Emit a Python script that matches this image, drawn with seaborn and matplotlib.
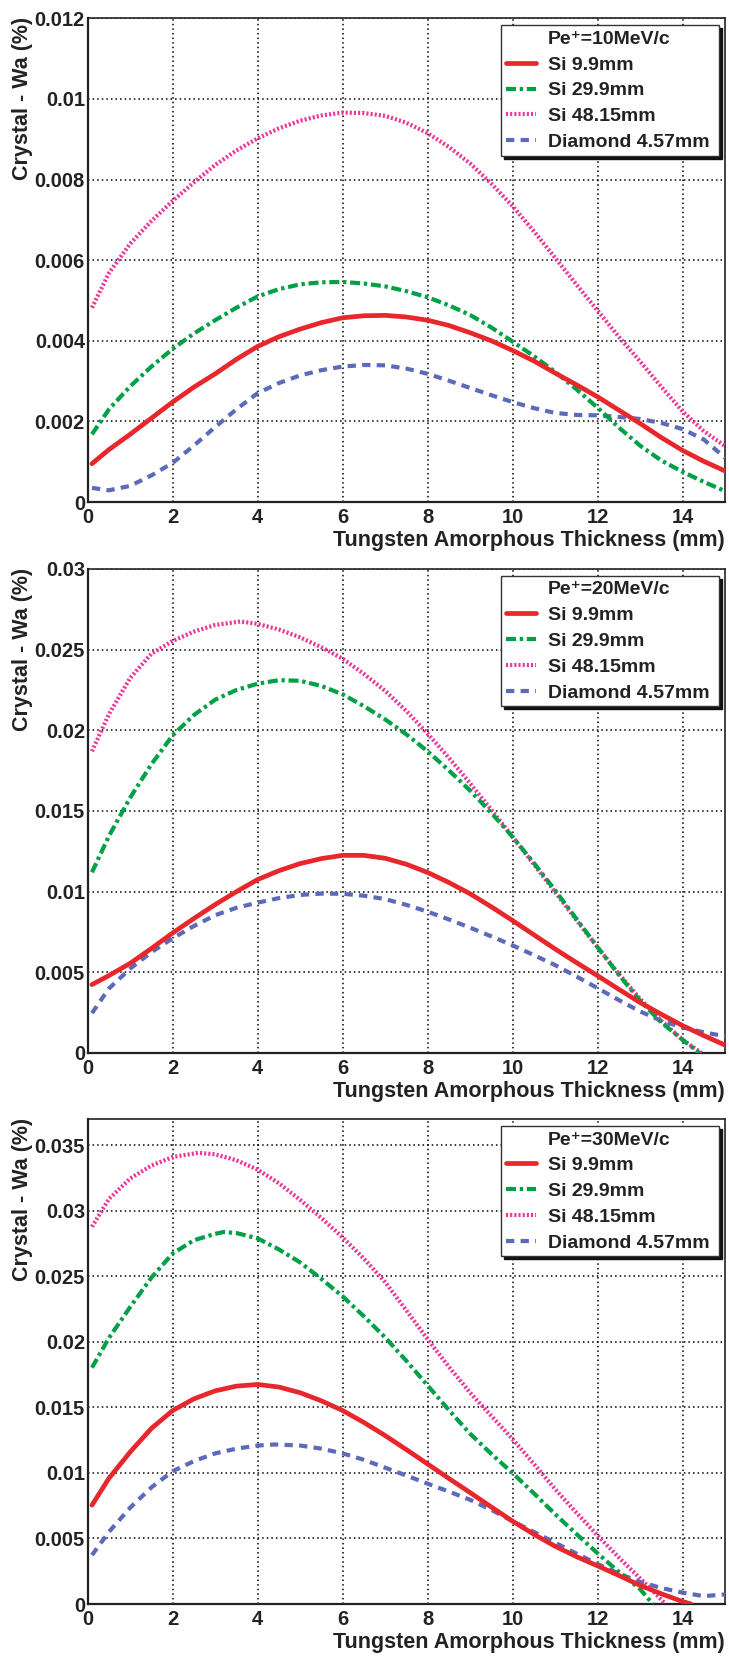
import matplotlib
matplotlib.use("Agg")
import matplotlib.pyplot as plt
from matplotlib.lines import Line2D
import numpy as np
import pandas as pd
import seaborn as sns

sns.set_theme(style="white")
plt.rcParams["font.family"] = ["Liberation Sans", "DejaVu Sans"]
plt.rcParams["font.weight"] = "bold"
plt.rcParams["axes.labelweight"] = "bold"

# ---------------------------------------------------------------- data
# Tungsten amorphous thickness (mm)
x_half = [0.1, 0.5, 1, 1.5, 2, 2.5, 3, 3.5, 4, 4.5, 5, 5.5, 6, 6.5, 7, 7.5,
          8, 8.5, 9, 9.5, 10, 10.5, 11, 11.5, 12, 12.5, 13, 13.5, 14, 14.5, 15]

momenta = ["Pe\u207a=10MeV/c", "Pe\u207a=20MeV/c", "Pe\u207a=30MeV/c"]
series_names = ["Si 9.9mm", "Si 29.9mm", "Si 48.15mm", "Diamond 4.57mm"]

# Pe+ = 10 MeV/c
x_10_si99 = x_half
y_10_si99 = [0.00095, 0.00130, 0.00168, 0.00208, 0.00248, 0.00285, 0.00318, 0.00354,
             0.00386, 0.00410, 0.00429, 0.00445, 0.00457, 0.00462, 0.00463, 0.00459,
             0.00451, 0.00438, 0.00420, 0.00400, 0.00376, 0.00350, 0.00320, 0.00291,
             0.00261, 0.00228, 0.00195, 0.00160, 0.00128, 0.00101, 0.00077]
x_10_si299 = x_half
y_10_si299 = [0.00168, 0.00230, 0.00287, 0.00336, 0.00380, 0.00418, 0.00451, 0.00482,
              0.00510, 0.00528, 0.00540, 0.00545, 0.00546, 0.00542, 0.00535, 0.00523,
              0.00508, 0.00488, 0.00464, 0.00433, 0.00398, 0.00362, 0.00323, 0.00280,
              0.00234, 0.00185, 0.00140, 0.00103, 0.00075, 0.00050, 0.00027]
x_10_si4815 = x_half
y_10_si4815 = [0.00482, 0.00568, 0.00641, 0.00697, 0.00747, 0.00793, 0.00836, 0.00872,
               0.00902, 0.00927, 0.00946, 0.00959, 0.00966, 0.00965, 0.00958, 0.00941,
               0.00915, 0.00881, 0.00840, 0.00790, 0.00734, 0.00672, 0.00606, 0.00540,
               0.00475, 0.00410, 0.00349, 0.00286, 0.00225, 0.00176, 0.00139]
x_10_dia = x_half
y_10_dia = [0.00035, 0.00029, 0.00040, 0.00066, 0.00097, 0.00140, 0.00186, 0.00230,
            0.00270, 0.00295, 0.00314, 0.00327, 0.00336, 0.00340, 0.00339, 0.00331,
            0.00318, 0.00301, 0.00283, 0.00265, 0.00248, 0.00233, 0.00221, 0.00216,
            0.00215, 0.00211, 0.00206, 0.00196, 0.00181, 0.00155, 0.00110]

# Pe+ = 20 MeV/c
x_20_si99 = x_half
y_20_si99 = [0.00424, 0.00480, 0.00556, 0.00648, 0.00744, 0.00834, 0.00920, 0.01000,
             0.01075, 0.01130, 0.01174, 0.01205, 0.01225, 0.01225, 0.01207, 0.01170,
             0.01119, 0.01057, 0.00987, 0.00906, 0.00821, 0.00733, 0.00645, 0.00561,
             0.00479, 0.00395, 0.00313, 0.00240, 0.00170, 0.00108, 0.00049]
x_20_si299 = x_half[:29] + [14.4]
y_20_si299 = [0.01120, 0.01345, 0.01583, 0.01790, 0.01969, 0.02095, 0.02190, 0.02250,
              0.02289, 0.02311, 0.02307, 0.02275, 0.02223, 0.02150, 0.02068, 0.01975,
              0.01870, 0.01752, 0.01627, 0.01488, 0.01340, 0.01178, 0.01009, 0.00832,
              0.00656, 0.00485, 0.00325, 0.00190, 0.00082, 0.0]
x_20_si4815 = [0.1, 0.5, 1, 1.5, 2, 2.5, 3, 3.6, 4, 4.5, 5, 5.5, 6, 6.5, 7, 7.5,
               8, 8.5, 9, 9.5, 10, 10.5, 11, 11.5, 12, 12.5, 13, 13.5, 14, 14.45]
y_20_si4815 = [0.01870, 0.02100, 0.02325, 0.02475, 0.02554, 0.02612, 0.02653, 0.02675,
               0.02660, 0.02625, 0.02576, 0.02515, 0.02444, 0.02350, 0.02245, 0.02120,
               0.01980, 0.01830, 0.01671, 0.01508, 0.01340, 0.01170, 0.00998, 0.00825,
               0.00656, 0.00490, 0.00336, 0.00200, 0.00082, 0.0]
x_20_dia = x_half
y_20_dia = [0.00247, 0.00400, 0.00523, 0.00625, 0.00711, 0.00787, 0.00854, 0.00900,
            0.00932, 0.00960, 0.00980, 0.00988, 0.00987, 0.00975, 0.00954, 0.00918,
            0.00876, 0.00828, 0.00777, 0.00723, 0.00667, 0.00607, 0.00545, 0.00475,
            0.00402, 0.00328, 0.00258, 0.00200, 0.00159, 0.00128, 0.00104]

# Pe+ = 30 MeV/c
x_30_si99 = x_half[:29] + [14.2]
y_30_si99 = [0.00754, 0.00959, 0.01160, 0.01340, 0.01476, 0.01565, 0.01626, 0.01662,
             0.01675, 0.01655, 0.01612, 0.01550, 0.01476, 0.01385, 0.01285, 0.01178,
             0.01068, 0.00958, 0.00850, 0.00740, 0.00632, 0.00532, 0.00441, 0.00362,
             0.00291, 0.00218, 0.00142, 0.00078, 0.00019, 0.0]
x_30_si299 = [0.1, 0.5, 1, 1.5, 2, 2.5, 3, 3.2, 3.5, 4, 4.5, 5, 5.5, 6, 6.5, 7, 7.5,
              8, 8.5, 9, 9.5, 10, 10.5, 11, 11.5, 12, 12.5, 13, 13.3]
y_30_si299 = [0.01803, 0.02030, 0.02266, 0.02490, 0.02674, 0.02775, 0.02824, 0.02838,
              0.02830, 0.02789, 0.02705, 0.02606, 0.02480, 0.02347, 0.02195, 0.02034,
              0.01855, 0.01667, 0.01480, 0.01299, 0.01145, 0.00999, 0.00845, 0.00686,
              0.00535, 0.00387, 0.00245, 0.00114, 0.0]
x_30_si4815 = [0.1, 0.5, 1, 1.5, 2, 2.6, 3, 3.5, 4, 4.5, 5, 5.5, 6, 6.5, 7, 7.5,
               8, 8.5, 9, 9.5, 10, 10.5, 11, 11.5, 12, 12.5, 13, 13.3, 13.6]
y_30_si4815 = [0.02878, 0.03090, 0.03246, 0.03345, 0.03410, 0.03442, 0.03431, 0.03385,
               0.03314, 0.03210, 0.03083, 0.02945, 0.02797, 0.02635, 0.02456, 0.02240,
               0.02020, 0.01810, 0.01612, 0.01435, 0.01258, 0.01070, 0.00877, 0.00698,
               0.00523, 0.00355, 0.00196, 0.00100, 0.0]
x_30_dia = [0.1, 0.5, 1, 1.5, 2, 2.5, 3, 3.5, 4, 4.4, 5, 5.5, 6, 6.5, 7, 7.5,
            8, 8.5, 9, 9.5, 10, 10.5, 11, 11.5, 12, 12.5, 13, 13.5, 14, 14.5, 15]
y_30_dia = [0.00373, 0.00550, 0.00735, 0.00890, 0.01013, 0.01090, 0.01149, 0.01185,
            0.01209, 0.01217, 0.01209, 0.01185, 0.01149, 0.01100, 0.01040, 0.00980,
            0.00918, 0.00858, 0.00795, 0.00718, 0.00632, 0.00550, 0.00468, 0.00385,
            0.00305, 0.00232, 0.00169, 0.00122, 0.00087, 0.00060, 0.00073]

panels = [
    [(x_10_si99, y_10_si99), (x_10_si299, y_10_si299), (x_10_si4815, y_10_si4815), (x_10_dia, y_10_dia)],
    [(x_20_si99, y_20_si99), (x_20_si299, y_20_si299), (x_20_si4815, y_20_si4815), (x_20_dia, y_20_dia)],
    [(x_30_si99, y_30_si99), (x_30_si299, y_30_si299), (x_30_si4815, y_30_si4815), (x_30_dia, y_30_dia)],
]

y_limits = [0.012, 0.03, 0.037]
y_major = [0.002, 0.005, 0.005]
y_minor = [0.0005, 0.001, 0.001]
y_ticklabels = [
    ["0", "0.002", "0.004", "0.006", "0.008", "0.01", "0.012"],
    ["0", "0.005", "0.01", "0.015", "0.02", "0.025", "0.03"],
    ["0", "0.005", "0.01", "0.015", "0.02", "0.025", "0.03", "0.035"],
]

# ---------------------------------------------------------------- styles
colors = ["#e8272c", "#00a046", "#ee3399", "#5b6bb9"]
widths = [3.4, 3.0, 3.0, 3.0]
styles = ["-", (0, (2.4, 0.9, 0.8, 0.9)), (0, (0.5, 0.5)), (0, (2.0, 1.5))]

W, H = 729, 1660
fig = plt.figure(figsize=(W / 100, H / 100), dpi=100)

ax_left = 87.7 / W
ax_width = (725.0 - 87.7) / W
panel_px = [(18.3, 502.0), (569.0, 1053.0), (1119.0, 1604.0)]

for i, (top_px, bot_px) in enumerate(panel_px):
    ax = fig.add_axes([ax_left, 1 - bot_px / H, ax_width, (bot_px - top_px) / H])
    handles = [Line2D([], [], linestyle="none", label=momenta[i])]
    for j, (xs, ys) in enumerate(panels[i]):
        df = pd.DataFrame({"thickness": xs, "diff": ys})
        sns.lineplot(data=df, x="thickness", y="diff", ax=ax, color=colors[j],
                     linewidth=widths[j], linestyle=styles[j], sort=False,
                     estimator=None, label=series_names[j], zorder=3 + (3 - j))
        handles.append(ax.get_lines()[-1])

    ax.set_xlim(0, 15)
    ax.set_ylim(0, y_limits[i])
    ax.set_xticks(np.arange(0, 15, 2))
    ax.set_xticks(np.arange(0, 15.01, 0.5), minor=True)
    yt = np.arange(len(y_ticklabels[i])) * y_major[i]
    ax.set_yticks(yt)
    ax.set_yticklabels(y_ticklabels[i])
    ax.set_yticks(np.arange(0, y_limits[i] + 1e-9, y_minor[i]), minor=True)

    ax.tick_params(axis="both", which="both", direction="in", colors="#222222",
                   labelcolor="#222222", width=1.3, top=False, right=False)
    ax.tick_params(axis="x", which="major", length=10, pad=4.5, labelsize=14.5)
    ax.tick_params(axis="x", which="minor", length=5)
    ax.tick_params(axis="y", which="major", length=13, pad=2, labelsize=14.5)
    ax.tick_params(axis="y", which="minor", length=6.5)
    for lab in ax.get_xticklabels() + ax.get_yticklabels():
        lab.set_fontweight("bold")

    ax.grid(True, which="major", color="black", linestyle=(0, (1, 2)), linewidth=1.1)
    for side in ["left", "bottom", "top", "right"]:
        ax.spines[side].set_visible(True)
        ax.spines[side].set_color("#222222")
    ax.spines["left"].set_linewidth(1.6)
    ax.spines["bottom"].set_linewidth(1.6)
    ax.spines["top"].set_linewidth(1.2)
    ax.spines["right"].set_linewidth(1.2)

    ax.set_xlabel("Tungsten Amorphous Thickness (mm)", fontsize=15.5,
                  fontweight="bold", color="#222222")
    ax.xaxis.set_label_coords(1.0, -0.058)
    ax.xaxis.label.set_horizontalalignment("right")

    ylab = ax.set_ylabel("Crystal - Wa (%)", fontsize=15.5, fontweight="bold",
                         color="#222222")
    ylab.set_horizontalalignment("right")
    ylab.set_verticalalignment("center")
    ylab.set_rotation_mode("anchor")
    ax.yaxis.set_label_coords(-0.103, 1.003)

    leg = ax.legend(handles=handles, loc="upper left",
                    bbox_to_anchor=(0.6485, 0.719, 0.342, 0.2665), mode="expand",
                    borderaxespad=0, fancybox=False, frameon=True,
                    shadow={"color": "#111111", "alpha": 1.0},
                    prop={"size": 14, "weight": "bold"},
                    handlelength=1.55, handletextpad=0.6, labelspacing=0.42,
                    borderpad=0.25)
    leg.get_frame().set_edgecolor("#333333")
    leg.get_frame().set_linewidth(1.0)
    leg.get_frame().set_facecolor("white")
    leg.set_zorder(10)
    for t in leg.get_texts():
        t.set_color("#222222")

fig.savefig("out.png", dpi=100)
